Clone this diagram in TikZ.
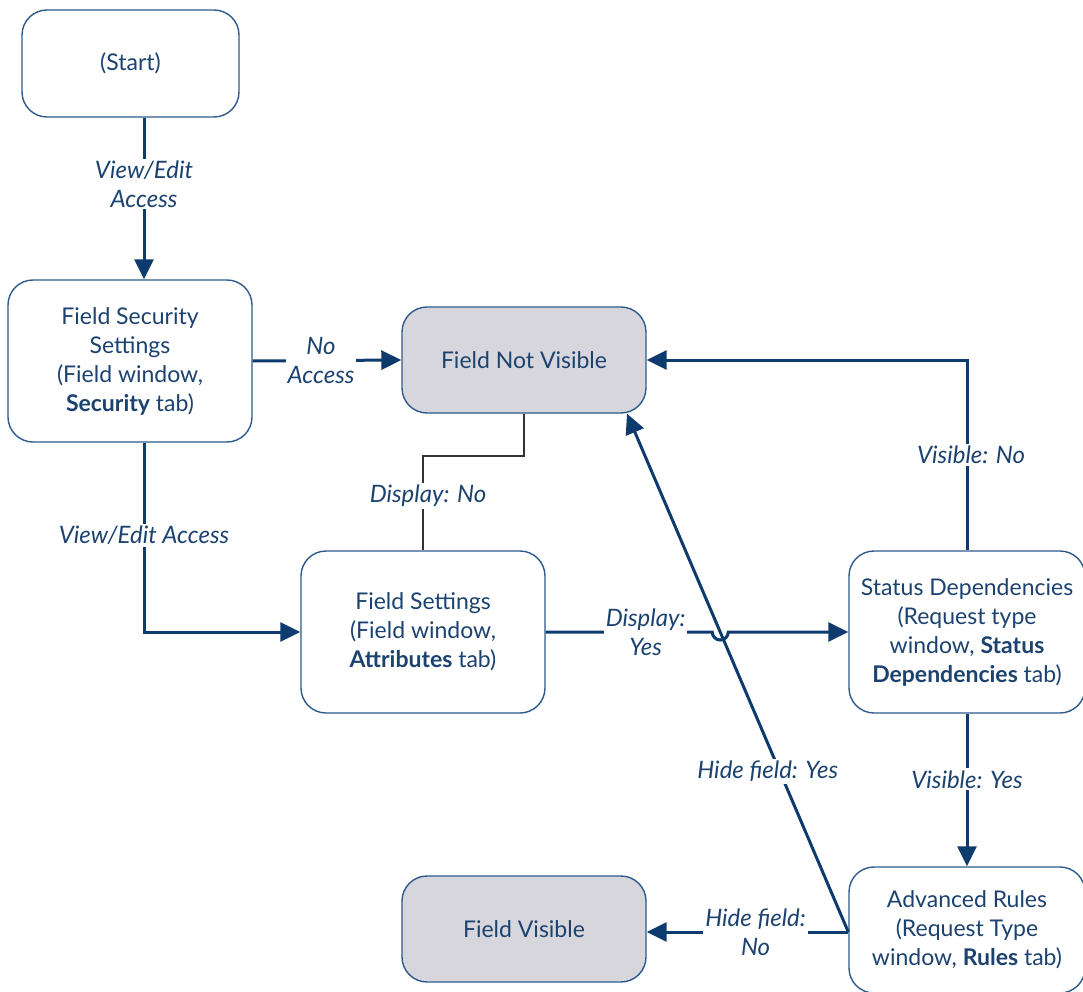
\documentclass[tikz,border=0pt]{standalone}
\usepackage{fontspec}
\setmainfont{Lato}
\usetikzlibrary{arrows.meta,calc}
\definecolor{navy}{HTML}{0D3B6E}
\definecolor{boxline}{HTML}{2E5B8C}
\definecolor{txt}{HTML}{1C426F}
\definecolor{greyfill}{HTML}{D6D6DC}
\begin{document}
\begin{tikzpicture}[x=1pt,y=-1pt,
  every node/.style={font=\fontsize{23}{29}\selectfont, text=txt},
  box/.style={draw=boxline, line width=1.4pt, rounded corners=25pt, fill=white,
    align=center, inner sep=0pt},
  wide/.style={box, minimum width=244pt, minimum height=162pt},
  term/.style={box, fill=greyfill, minimum width=244pt, minimum height=106pt},
  flow/.style={draw=navy, line width=3pt},
  arr/.style={flow, -{Triangle[length=20pt,width=19pt]}},
  thin/.style={draw=black!80, line width=1.3pt},
  lbl/.style={fill=white, inner sep=2pt, align=center, font=\fontsize{24}{29}\selectfont\itshape},
]
\useasboundingbox (0,0) rectangle (1083,992);

% boxes
\node[box, minimum width=217pt, minimum height=107pt] (start) at (130.5,63.5) {(Start)};
\node[wide] (fss) at (130,361) {Field Security\\Settings\\(Field window,\\\textbf{Security} tab)};
\node[term] (fnv) at (524,360) {Field Not Visible};
\node[wide] (fs) at (423,632) {Field Settings\\(Field window,\\\textbf{Attributes} tab)};
\node[wide, minimum width=236pt] (sd) at (967,632) {Status Dependencies\\(Request type\\window, \textbf{Status}\\\textbf{Dependencies} tab)};
\node[box, minimum width=236pt, minimum height=126pt] (ar) at (967,930) {Advanced Rules\\(Request Type\\window, \textbf{Rules} tab)};
\node[term] (fv) at (524,929) {Field Visible};

% helper coordinates
\coordinate (lane) at (144,0);
\coordinate (dn) at (0,456);
\coordinate (hit) at ($(fnv.south)+(103,0)$);
\coordinate (src) at ($(ar.west)+(0,2)$);

% start -> field security
\draw[arr] (start.south -| lane) -- node[lbl, pos=0.41] {View/Edit\\Access} (fss.north -| lane);

% field security -> not visible
\draw[arr] (fss.east) -- node[lbl, pos=0.46] {No\\Access} (fnv.west);

% field security -> field settings
\draw[arr] (fss.south -| lane) -- node[lbl, pos=0.49] {View/Edit Access} (lane |- fs.west) -- (fs.west);

% field settings -> not visible (display: no)
\draw[thin] (fs.north) -- node[lbl, pos=0.58, xshift=5pt] {Display: No} (fs.north |- dn) -- (fnv.south |- dn) -- (fnv.south);

% hide field: yes (diagonal)
\draw[arr] (src) -- node[lbl, pos=0.31, xshift=-12pt] {Hide field: Yes} (hit);

% field settings -> status dependencies, hopping over the diagonal
\coordinate (cross) at (intersection of fs.east--sd.west and src--hit);
\draw[arr] (fs.east) -- node[lbl, pos=0.6] {Display:\\Yes} ($(cross)+(-8,0)$)
  arc[start angle=180, end angle=0, radius=8] -- (sd.west);

% status dependencies -> not visible
\draw[arr] (sd.north) -- node[lbl, pos=0.5, xshift=4pt] {Visible: No} (sd.north |- fnv.east) -- (fnv.east);

% status dependencies -> advanced rules
\draw[arr] (sd.south) -- node[lbl, pos=0.43] {Visible: Yes} (ar.north);

% advanced rules -> field visible
\draw[arr] (src) -- node[lbl, pos=0.46] {Hide field:\\No} (src -| fv.east);
\end{tikzpicture}
\end{document}
